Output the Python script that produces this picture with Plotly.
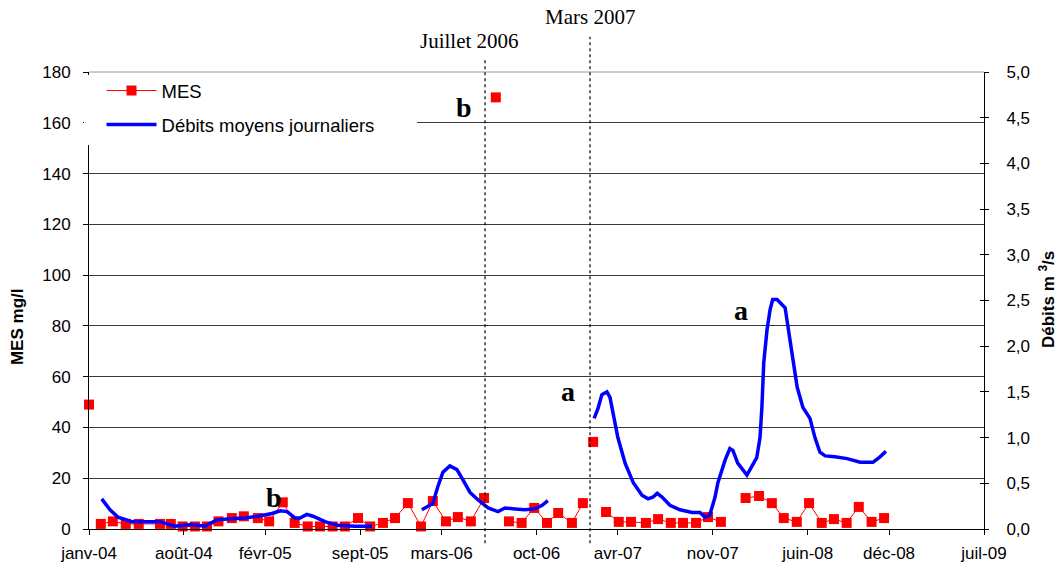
import calendar
import plotly.graph_objects as go

# Suspended matter (MES, mg/l) sampling dates and values; None breaks the line
mes_dates = [
    "2004-01-01", None,
    "2004-01-28", "2004-02-23", "2004-03-23", "2004-04-21", "2004-06-08",
    "2004-07-02", "2004-07-29", "2004-08-26", "2004-09-22", "2004-10-18",
    "2004-11-17", "2004-12-14", "2005-01-15", "2005-02-09", "2005-03-10",
    "2005-04-06", "2005-05-05", "2005-06-02", "2005-06-30", "2005-07-28",
    "2005-08-27", "2005-09-23", "2005-10-22", "2005-11-18", "2005-12-17",
    "2006-01-16", "2006-02-11", "2006-03-11", "2006-04-07", "2006-05-06",
    "2006-06-05", None,
    "2006-07-01", None,
    "2006-07-31", "2006-08-29", "2006-09-26", "2006-10-25", "2006-11-19",
    "2006-12-20", "2007-01-14", None,
    "2007-02-06", None,
    "2007-03-05", "2007-04-03", "2007-04-30", "2007-06-03", "2007-06-30",
    "2007-07-29", "2007-08-26", "2007-09-24", "2007-10-21", "2007-11-19", None,
    "2008-01-14", "2008-02-13", "2008-03-12", "2008-04-08", "2008-05-07",
    "2008-06-04", "2008-07-02", "2008-07-30", "2008-08-28", "2008-09-24",
    "2008-10-23", "2008-11-20",
]
mes_values = [
    49, None,
    2, 3, 2, 2, 2,
    2, 1, 1, 1, 3,
    4.3, 5, 4.3, 3, 10.5,
    2.4, 1, 1, 1, 1,
    4.3, 1, 2.4, 4.3, 10.2,
    1, 11, 3, 4.7, 3,
    12.2, None,
    170, None,
    3, 2.4, 8.3, 2.4, 6.3,
    2.4, 10.2, None,
    34.3, None,
    6.7, 2.8, 2.8, 2.4, 3.9,
    2.4, 2.4, 2.4, 4.7, 2.8, None,
    12.2, 13, 10.2, 4.3, 2.8,
    10.2, 2.4, 3.9, 2.4, 8.7,
    2.8, 4.3,
]

# Mean daily discharge (m3/s); None separates the three recorded periods
debit_dates = [
    "2004-01-30", "2004-02-17", "2004-03-05", "2004-04-06", "2004-05-05",
    "2004-06-08", "2004-07-11", "2004-08-19", "2004-09-17", "2004-10-14",
    "2004-11-08", "2004-12-16", "2005-01-15", "2005-02-15", "2005-03-04",
    "2005-03-20", "2005-04-07", "2005-04-18", "2005-05-03", "2005-05-17",
    "2005-06-13", "2005-07-12", "2005-08-20", "2005-09-27", None,
    "2006-01-18", "2006-01-25", "2006-02-11", "2006-02-21", "2006-03-04",
    "2006-03-20", "2006-04-05", "2006-04-18", "2006-05-04", "2006-05-22",
    "2006-06-14", "2006-07-06", "2006-07-22", "2006-08-14", "2006-09-05",
    "2006-09-27", "2006-10-14", "2006-10-27", None,
    "2007-02-08", "2007-02-16", "2007-02-24", "2007-03-07", "2007-03-14",
    "2007-03-21", "2007-04-01", "2007-04-17", "2007-05-05", "2007-05-25",
    "2007-06-08", "2007-06-19", "2007-06-28", "2007-07-09", "2007-07-27",
    "2007-08-19", "2007-09-15", "2007-10-03", "2007-10-14", "2007-10-25",
    "2007-11-06", "2007-11-12", "2007-11-28", "2007-12-09", "2007-12-16",
    "2007-12-27", "2008-01-17", "2008-02-08", "2008-02-15", "2008-02-19",
    "2008-02-23", "2008-03-01", "2008-03-08", "2008-03-14", "2008-03-24",
    "2008-04-11", "2008-04-22", "2008-04-26", "2008-05-08", "2008-05-21",
    "2008-06-06", "2008-06-17", "2008-06-28", "2008-07-10", "2008-08-01",
    "2008-08-29", "2008-09-27", "2008-10-26", "2008-11-11", "2008-11-24",
]
debit_values = [
    0.33, 0.21, 0.13, 0.08, 0.08,
    0.08, 0.03, 0.05, 0.03, 0.10,
    0.11, 0.12, 0.14, 0.17, 0.20,
    0.19, 0.12, 0.12, 0.16, 0.14,
    0.08, 0.04, 0.03, 0.03, None,
    0.21, 0.23, 0.28, 0.46, 0.62,
    0.69, 0.65, 0.54, 0.40, 0.32,
    0.23, 0.19, 0.23, 0.22, 0.21,
    0.22, 0.26, 0.31, None,
    1.21, 1.32, 1.47, 1.50, 1.44,
    1.27, 1.00, 0.72, 0.51, 0.37,
    0.33, 0.35, 0.39, 0.35, 0.26,
    0.21, 0.18, 0.18, 0.13, 0.15,
    0.35, 0.50, 0.75, 0.88, 0.86,
    0.72, 0.59, 0.78, 1.00, 1.33,
    1.82, 2.18, 2.40, 2.51, 2.51,
    2.42, 2.10, 1.93, 1.55, 1.33,
    1.21, 1.00, 0.84, 0.80, 0.79,
    0.77, 0.73, 0.73, 0.79, 0.85,
]

# Month ticks, every seven months from January 2004
tick_dates = ["2004-01-01", "2004-08-01", "2005-02-01", "2005-09-01",
              "2006-03-01", "2006-10-01", "2007-04-01", "2007-11-01",
              "2008-06-01", "2008-12-01", "2009-07-01"]
tick_labels = ["janv-04", "août-04", "févr-05", "sept-05", "mars-06", "oct-06",
               "avr-07", "nov-07", "juin-08", "déc-08", "juil-09"]

mes_ticks = list(range(0, 181, 20))
debit_ticks = [i * 0.5 for i in range(11)]


def month_pos(d):
    """Position of a date on a month-based axis (January 2004 = 0)."""
    if d is None:
        return None
    y, m, day = map(int, d.split("-"))
    dim = calendar.monthrange(y, m)[1]
    return (y - 2004) * 12 + (m - 1) + (day - 1) / dim


SANS = "Liberation Sans, Arial, sans-serif"
SERIF = "Liberation Serif, Times New Roman, serif"

fig = go.Figure()

fig.add_trace(go.Scatter(
    x=[month_pos(d) for d in mes_dates], y=mes_values,
    name="MES", mode="lines+markers", legendgroup="mes",
    line=dict(color="#ff0000", width=1),
    marker=dict(symbol="square", size=10, color="#ff0000"),
    cliponaxis=False, connectgaps=False, yaxis="y",
))
fig.add_trace(go.Scatter(
    x=[month_pos(d) for d in debit_dates], y=debit_values,
    name="Débits moyens journaliers", mode="lines", legendgroup="deb",
    line=dict(color="#0000ff", width=3.5),
    connectgaps=False, yaxis="y2",
))

tick_font = dict(family=SANS, size=17, color="black")

fig.update_layout(
    width=1058, height=566,
    margin=dict(l=89, r=74, t=72, b=37),
    paper_bgcolor="white", plot_bgcolor="white",
    separators=", ",
    showlegend=True,
    legend=dict(
        x=0.014, y=1.0, xanchor="left", yanchor="top",
        bgcolor="rgba(255,255,255,0)", borderwidth=0,
        font=dict(family=SANS, size=18.5, color="black"),
        itemwidth=50, traceorder="grouped", tracegroupgap=7,
    ),
    xaxis=dict(
        range=[0, 66], tickmode="array",
        tickvals=[month_pos(d) for d in tick_dates], ticktext=tick_labels,
        ticks="outside", ticklen=5, tickcolor="black",
        showline=True, linecolor="black", linewidth=1,
        showgrid=False, zeroline=False, tickfont=tick_font,
        ticklabelstandoff=4, automargin=False,
    ),
    yaxis=dict(
        range=[0, 180], tickmode="array", tickvals=mes_ticks,
        ticks="outside", ticklen=5, tickcolor="black",
        showline=True, linecolor="black", linewidth=1,
        showgrid=True, gridcolor="#3a3a3a", gridwidth=1,
        zeroline=False, tickfont=tick_font,
        ticklabelstandoff=9, automargin=False,
    ),
    yaxis2=dict(
        range=[0, 5], overlaying="y", side="right", anchor="x",
        tickmode="array", tickvals=debit_ticks, tickformat=".1f",
        ticks="outside", ticklen=4, tickcolor="black",
        showline=True, linecolor="black", linewidth=1,
        showgrid=False, zeroline=False, tickfont=tick_font,
        ticklabelstandoff=14, automargin=False,
    ),
    yaxis3=dict(
        range=[0, 5], overlaying="y", side="right", anchor="x",
        tickmode="array", tickvals=debit_ticks,
        ticks="inside", ticklen=4, tickcolor="black",
        showticklabels=False, showline=False, showgrid=False,
        zeroline=False, automargin=False,
    ),
)

# empty trace on y3 so the inside tick marks of the right axis are drawn
fig.add_trace(go.Scatter(x=[None], y=[None], yaxis="y3", showlegend=False,
                         hoverinfo="skip"))

# white panel behind the legend, hiding the grid and axis line there
fig.add_shape(type="rect", xref="paper", yref="paper",
              x0=-0.0056, x1=0.3665, y0=0.840, y1=0.9934,
              fillcolor="white", line=dict(width=0), layer="above")

# top grid line is lighter
fig.add_shape(type="line", xref="paper", yref="paper",
              x0=0, x1=1, y0=1, y1=1,
              line=dict(color="#9a9a9a", width=1), layer="above")

# Event markers: dotted vertical lines with their labels
for x0, y1 in [(0.4425, 1.031), (0.5598, 1.077)]:
    fig.add_shape(type="line", xref="paper", yref="paper",
                  x0=x0, x1=x0, y0=-0.031, y1=y1,
                  line=dict(color="black", width=1.2, dash="dot"))

notes = [
    ("Juillet 2006", 0.4246, 1.068, 21, False),
    ("Mars 2007", 0.5598, 1.120, 21, False),
    ("b", 0.419, 0.923, 28, True),
    ("b", 0.2067, 0.070, 28, True),
    ("a", 0.535, 0.300, 28, True),
    ("a", 0.7285, 0.479, 28, True),
]
for text, x, y, size, bold in notes:
    fig.add_annotation(
        text=f"<b>{text}</b>" if bold else text,
        xref="paper", yref="paper", x=x, y=y,
        xanchor="center", yanchor="middle", showarrow=False,
        font=dict(family=SERIF, size=size, color="black"),
    )

# Axis titles
fig.add_annotation(text="<b>MES mg/l</b>", xref="paper", yref="paper",
                   x=-0.0804, y=0.442, textangle=-90, showarrow=False,
                   xanchor="center", yanchor="middle",
                   font=dict(family=SANS, size=17, color="black"))
fig.add_annotation(text="<b>Débits m <sup>3</sup>/s</b>", xref="paper",
                   yref="paper", x=1.0704, y=0.501, textangle=-90,
                   showarrow=False, xanchor="center", yanchor="middle",
                   font=dict(family=SANS, size=17, color="black"))

fig.write_html("out.html")
